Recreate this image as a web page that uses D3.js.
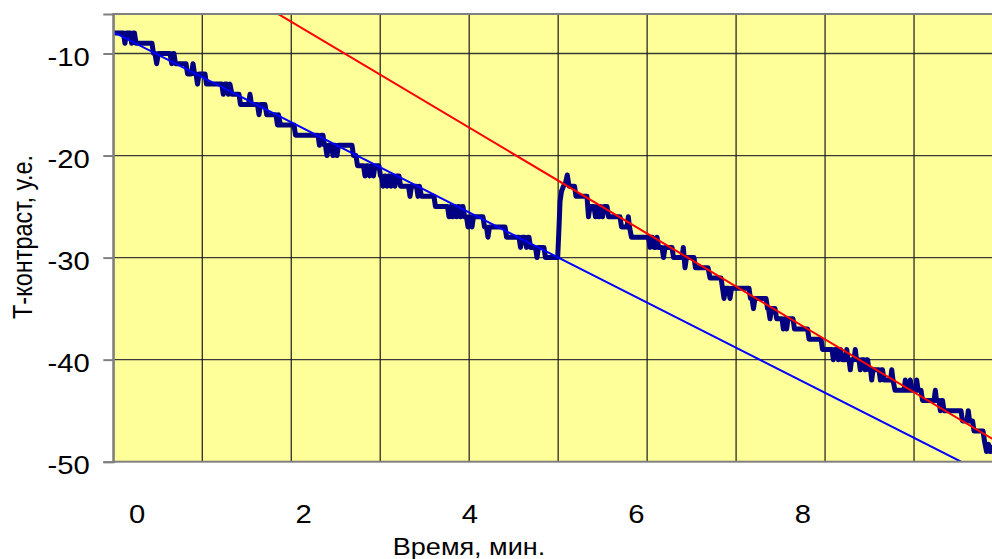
<!DOCTYPE html>
<html><head><meta charset="utf-8">
<script src="https://cdn.jsdelivr.net/npm/d3@7"></script>
<style>body{margin:0;background:#fff;overflow:hidden} svg{display:block}</style>
</head><body>
<svg id="c" width="992" height="559"></svg>
<script>
// ---- data (time in minutes, T-contrast in arbitrary units) ----
const timeMin = [
-0.281,-0.159,-0.141,-0.123,-0.078,-0.060,-0.044,-0.026,-0.008,0.184,0.202,0.220,0.240,0.261,0.400,0.421,0.436,0.448,0.466,0.593,
0.611,0.659,0.677,0.695,0.713,0.731,0.749,0.821,0.839,1.022,1.041,1.061,1.082,1.101,1.121,1.145,1.230,1.248,1.344,1.362,
1.380,1.452,1.470,1.488,1.542,1.563,1.674,1.692,1.704,1.728,1.891,1.909,2.179,2.197,2.215,2.239,2.257,2.269,2.287,2.305,
2.341,2.359,2.377,2.389,2.407,2.425,2.588,2.606,2.636,2.654,2.726,2.744,2.762,2.780,2.798,2.816,2.828,2.846,2.864,2.912,
2.930,2.942,2.960,2.978,2.990,3.008,3.026,3.038,3.056,3.074,3.086,3.104,3.122,3.153,3.171,3.267,3.285,3.303,3.363,3.381,
3.399,3.423,3.573,3.591,3.736,3.754,3.772,3.796,3.814,3.826,3.844,3.862,3.874,3.892,3.910,3.922,3.940,3.964,3.982,4.000,
4.012,4.030,4.048,4.162,4.180,4.204,4.222,4.240,4.427,4.445,4.595,4.613,4.631,4.667,4.685,4.703,4.715,4.733,4.793,4.811,
4.829,4.895,4.913,5.060,5.076,5.088,5.106,5.130,5.154,5.175,5.196,5.262,5.280,5.412,5.430,5.448,5.496,5.514,5.532,5.556,
5.574,5.599,5.617,5.653,5.671,5.809,5.827,5.893,5.909,5.923,5.947,6.151,6.169,6.187,6.199,6.217,6.236,6.254,6.272,6.314,
6.332,6.350,6.434,6.452,6.554,6.570,6.580,6.590,6.608,6.698,6.716,6.867,6.891,7.023,7.041,7.059,7.077,7.113,7.131,7.149,
7.359,7.377,7.395,7.413,7.431,7.564,7.582,7.594,7.612,7.630,7.672,7.692,7.756,7.772,7.788,7.796,7.812,7.828,7.888,7.906,
8.063,8.081,8.225,8.243,8.357,8.373,8.389,8.417,8.433,8.450,8.459,8.477,8.519,8.534,8.549,8.561,8.577,8.591,8.621,8.637,
8.651,8.681,8.697,8.712,8.742,8.757,8.772,8.784,8.802,8.820,8.834,8.850,8.922,8.938,8.952,8.964,8.982,9.060,9.075,9.090,
9.114,9.222,9.238,9.252,9.282,9.298,9.312,9.361,9.375,9.391,9.427,9.445,9.583,9.599,9.613,9.643,9.659,9.673,9.685,9.703,
9.907,9.925,9.980,9.995,10.010,10.046,10.064,10.172,10.190,10.214,10.238,10.262,10.280
];
const contrast = [
-8,-8,-9,-8,-8,-9,-8,-8,-9,-9,-10,-10,-11,-10,-10,-11,-10,-10,-11,-11,
-12,-12,-11,-12,-12,-13,-12,-12,-13,-13,-14,-13,-13,-14,-13,-14,-14,-15,-15,-14,
-15,-15,-16,-15,-15,-16,-16,-17,-16,-17,-17,-18,-18,-19,-18,-18,-19,-19,-20,-19,
-19,-20,-19,-19,-20,-19,-19,-20,-20,-21,-21,-22,-21,-21,-22,-21,-21,-22,-21,-21,
-22,-22,-23,-22,-22,-23,-22,-22,-23,-22,-22,-23,-22,-22,-23,-23,-24,-23,-23,-24,
-23,-24,-24,-25,-25,-26,-25,-26,-25,-25,-26,-25,-25,-26,-25,-25,-26,-26,-27,-26,
-26,-27,-26,-26,-27,-27,-28,-27,-27,-28,-28,-29,-28,-28,-29,-28,-28,-29,-29,-30,
-29,-29,-30,-30,-27,-24.5,-23.5,-23,-22.7,-21.9,-23,-23,-24,-24,-26,-25,-25,-26,-25,-26,
-25,-26,-25,-25,-26,-26,-27,-27,-26,-27,-28,-28,-29,-28,-28,-29,-29,-28,-29,-29,
-30,-29,-29,-30,-30,-29,-30,-31,-30,-30,-31,-31,-32,-32,-33,-34,-33,-33,-34,-33,
-33,-34,-34,-35,-34,-34,-35,-35,-36,-35,-35,-36,-36,-37,-36,-36,-37,-36,-36,-37,
-37,-38,-38,-39,-39,-40,-39,-39,-40,-39,-39,-40,-40,-39,-40,-40,-41,-40,-40,-39,
-40,-40,-41,-40,-40,-41,-40,-40,-41,-41,-42,-41,-41,-42,-41,-41,-42,-42,-41,-42,
-43,-43,-42,-43,-43,-42,-43,-43,-42,-43,-43,-44,-44,-43,-44,-44,-45,-44,-44,-45,
-45,-46,-46,-45,-46,-46,-47,-47,-48,-49,-48.3,-49,-48.6
];
// trend lines (before and after the step)
const trendBlueT = [-0.281, 9.908];
const trendBlueV = [-7.9, -50];
const trendRedT  = [1.60, 10.40];
const trendRedV  = [-5.64, -48.33];
// axes
const yTicks = [-50, -40, -30, -20, -10];
const xTicks = [0, 2, 4, 6, 8];
const xTitle = "Время, мин.";
const yTitle = "Т-контраст, у.е.";

// ---- layout ----
const L = 113.3, R = 1003, T = 14, B = 461.7;
const x = d3.scaleLinear().domain([-0.281, 10.412]).range([L, R]);
const y = d3.scaleLinear().domain([-50, -6.13]).range([B, T]);
const grid = d3.scaleLinear().domain([0, 10]).range([L, R]);
const FONT = "'Liberation Sans', Arial, sans-serif";

const svg = d3.select("#c");
svg.append("defs").append("clipPath").attr("id", "plotclip")
  .append("rect").attr("x", L).attr("y", T).attr("width", R - L).attr("height", B - T);

svg.append("rect").attr("x", L).attr("y", T).attr("width", R - L).attr("height", B - T)
  .attr("fill", "#FFFF99");

// gridlines
svg.append("g").selectAll("line").data(yTicks.filter(d => d > -50)).join("line")
  .attr("x1", L).attr("x2", R).attr("y1", d => y(d)).attr("y2", d => y(d))
  .attr("stroke", "#3a3a3a").attr("stroke-width", 1.3);
svg.append("g").selectAll("line").data(d3.range(1, 10)).join("line")
  .attr("x1", d => grid(d)).attr("x2", d => grid(d)).attr("y1", T).attr("y2", B)
  .attr("stroke", "#1a1a1a").attr("stroke-width", 1.2);

const plot = svg.append("g").attr("clip-path", "url(#plotclip)");
const line = d3.line().x(d => x(d[0])).y(d => y(d[1]));

plot.append("path").datum(d3.zip(timeMin, contrast)).attr("d", line)
  .attr("fill", "none").attr("stroke", "#000080").attr("stroke-width", 5)
  .attr("stroke-linejoin", "round").attr("stroke-linecap", "round");
plot.append("path").datum(d3.zip(trendBlueT, trendBlueV)).attr("d", line)
  .attr("fill", "none").attr("stroke", "#0000FF").attr("stroke-width", 2);
plot.append("path").datum(d3.zip(trendRedT, trendRedV)).attr("d", line)
  .attr("fill", "none").attr("stroke", "#FF0000").attr("stroke-width", 2);

// border
svg.append("rect").attr("x", L).attr("y", T).attr("width", R - L).attr("height", B - T)
  .attr("fill", "none").attr("stroke", "#808080").attr("stroke-width", 2);

// y axis
const yAxis = svg.append("g").attr("transform", `translate(${L},0)`)
  .call(d3.axisLeft(y).tickValues(yTicks).tickSize(10).tickFormat(d3.format("d")));
yAxis.select(".domain").attr("stroke", "#808080").attr("stroke-width", 2);
yAxis.selectAll(".tick line").attr("stroke", "#808080").attr("stroke-width", 2);
yAxis.selectAll(".tick text")
  .attr("x", null).attr("dy", null)
  .attr("transform", "translate(-23.5,12) scale(1.17,1)")
  .attr("text-anchor", "end")
  .attr("font-family", FONT).attr("font-size", 25).attr("fill", "#000")
  .text(d => d3.format("d")(d).replace("−", "-"));

// x axis labels
const xAxis = svg.append("g").attr("transform", `translate(0,${B})`)
  .call(d3.axisBottom(x).tickValues(xTicks).tickSize(0).tickFormat(d3.format("d")));
xAxis.select(".domain").remove();
xAxis.selectAll(".tick text")
  .attr("y", null).attr("dy", null)
  .attr("transform", "translate(0,61) scale(1.17,1)")
  .attr("font-family", FONT).attr("font-size", 25).attr("fill", "#000");

// titles
svg.append("text").attr("transform", "translate(469,555) scale(1.15,1)")
  .attr("text-anchor", "middle").attr("font-family", FONT).attr("font-size", 23.5)
  .attr("fill", "#000").text(xTitle);
svg.append("text").attr("transform", "translate(31.5,237) scale(1.15,1) rotate(-90)")
  .attr("text-anchor", "middle").attr("font-family", FONT).attr("font-size", 23.5)
  .attr("fill", "#000").text(yTitle);
</script>
</body></html>
